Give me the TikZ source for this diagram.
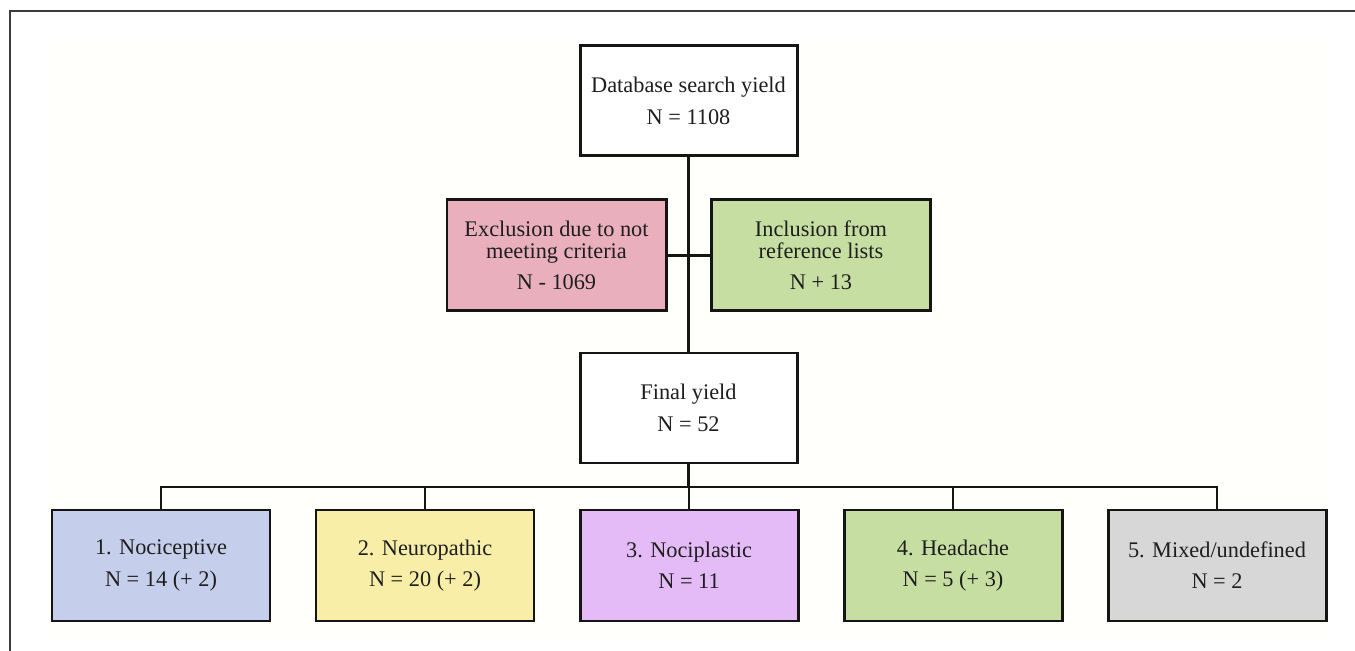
\documentclass[tikz,border=0pt]{standalone}
\usepackage{fontspec}
\setmainfont{Liberation Serif}
\usetikzlibrary{positioning}
\definecolor{flowLine}{HTML}{151515}
\definecolor{flowText}{HTML}{1E1E1E}
\definecolor{flowFrame}{HTML}{3C3C3C}
\definecolor{flowPanel}{HTML}{FFFFFC}
\definecolor{flowExcl}{HTML}{E9AFBD}
\definecolor{flowIncl}{HTML}{C6DEA2}
\definecolor{flowNoci}{HTML}{C5CEEA}
\definecolor{flowNeuro}{HTML}{F8EEA8}
\definecolor{flowPlast}{HTML}{E4BBF6}
\definecolor{flowHead}{HTML}{C6DEA2}
\definecolor{flowMixed}{HTML}{D7D7D7}
\tikzset{
  flowfig/.style={
    every node/.append style={font=\fontsize{12.7}{12.3}\selectfont, text=flowText},
  },
  stagebox/.style={
    draw=flowLine, line width=1.7pt, fill=white, align=center,
    minimum width=4.34cm, minimum height=2.2cm, inner sep=2pt,
  },
  exclbox/.style={stagebox, fill=flowExcl, minimum width=4.38cm, minimum height=2.22cm},
  inclbox/.style={stagebox, fill=flowIncl, minimum width=4.38cm, minimum height=2.22cm},
  catbox/.style={stagebox, minimum width=4.36cm, minimum height=2.22cm},
  link/.style={draw=flowLine, line width=1.4pt},
}
\begin{document}
\begin{tikzpicture}[flowfig]
  \useasboundingbox (0,0) rectangle (27.1,13.02);
  % Rahmen und blasser Hintergrund
  \fill[flowPanel] (0.96,0.2) rectangle (26.56,12.16);
  \draw[draw=flowFrame, line width=1.2pt] (0.2,0) -- (0.2,12.80) -- (27.1,12.80);
  \node[stagebox] (Database) at (13.77,11.00) {Database search yield\\[5.5pt]N = 1108};
  \node[exclbox] (Exclusion) at (11.13,7.91) {Exclusion due to not\\meeting criteria\\[5.5pt]N - 1069};
  \node[inclbox] (Inclusion) at (16.42,7.91) {Inclusion from\\reference lists\\[5.5pt]N + 13};
  \node[stagebox] (Final) at (13.77,4.86) {Final yield\\[5.5pt]N = 52};
  \node[catbox, fill=flowNoci] (Nociceptive) at (3.22,1.71) {1. Nociceptive\\[5.5pt]N = 14 (+ 2)};
  \node[catbox, fill=flowNeuro] (Neuropathic) at (8.50,1.71) {2. Neuropathic\\[5.5pt]N = 20 (+ 2)};
  \node[catbox, fill=flowPlast] (Nociplastic) at (13.78,1.71) {3. Nociplastic\\[5.5pt]N = 11};
  \node[catbox, fill=flowHead] (Headache) at (19.06,1.71) {4. Headache\\[5.5pt]N = 5 (+ 3)};
  \node[catbox, fill=flowMixed] (Mixed) at (24.34,1.71) {5. Mixed/undefined\\[5.5pt]N = 2};
  \coordinate (Bus) at (13.77,3.28);
  \draw[link] (Database.south) -- (Final.north);
  \draw[link] (Exclusion.east) -- (Inclusion.west);
  \draw[link] (Final.south) -- (Bus);
  \foreach \cat in {Nociceptive, Neuropathic, Nociplastic, Headache, Mixed}
    \draw[link] (Bus) -| (\cat.north);
\end{tikzpicture}
\end{document}
